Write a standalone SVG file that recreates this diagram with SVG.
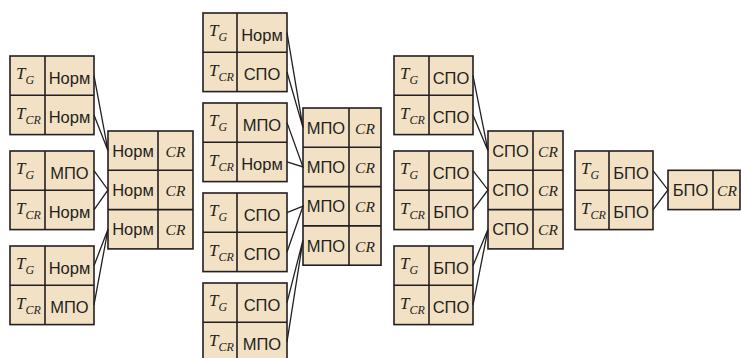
<svg xmlns="http://www.w3.org/2000/svg" width="741" height="358" viewBox="0 0 741 358">
<style>
.box{fill:#f3e1c5;stroke:#231f20;stroke-width:1.6}
.div{stroke:#231f20;stroke-width:1.6;fill:none}
.s{font-family:"Liberation Sans",Arial,sans-serif;font-size:16.5px;fill:#231f20;text-anchor:middle}
.t{font-family:"Liberation Serif","Times New Roman",serif;font-style:italic;font-size:17px;fill:#231f20}
.sub{font-size:12px}
.cr{font-family:"Liberation Serif","Times New Roman",serif;font-style:italic;font-size:15.5px;fill:#231f20;text-anchor:middle}
.con{fill:none;stroke:#231f20;stroke-width:1.3}
</style>
<rect width="741" height="358" fill="#ffffff"/>

<!-- Group 1 inputs -->
<g id="g1a">
<rect class="box" x="10" y="56" width="84" height="78.6"/>
<path class="div" d="M45,56V134.6M10,95.3H94"/>
<text class="t" x="16" y="79.2">T<tspan class="sub" dy="5">G</tspan></text>
<text class="t" x="16" y="118.5">T<tspan class="sub" dy="5">CR</tspan></text>
<text class="s" x="69.5" y="84">Норм</text>
<text class="s" x="69.5" y="123.3">Норм</text>
</g>
<g id="g1b">
<rect class="box" x="10" y="151" width="84" height="78.6"/>
<path class="div" d="M45,151V229.6M10,190.3H94"/>
<text class="t" x="16" y="174.2">T<tspan class="sub" dy="5">G</tspan></text>
<text class="t" x="16" y="213.5">T<tspan class="sub" dy="5">CR</tspan></text>
<text class="s" x="69.5" y="179">МПО</text>
<text class="s" x="69.5" y="218.3">Норм</text>
</g>
<g id="g1c">
<rect class="box" x="10" y="246" width="84" height="78.6"/>
<path class="div" d="M45,246V324.6M10,285.3H94"/>
<text class="t" x="16" y="269.2">T<tspan class="sub" dy="5">G</tspan></text>
<text class="t" x="16" y="308.5">T<tspan class="sub" dy="5">CR</tspan></text>
<text class="s" x="69.5" y="274">Норм</text>
<text class="s" x="69.5" y="313.3">МПО</text>
</g>
<g id="g1out">
<rect class="box" x="108" y="131" width="85" height="117.9"/>
<path class="div" d="M158,131V248.9M108,170.3H193M108,209.6H193"/>
<text class="s" x="133" y="156.7">Норм</text>
<text class="s" x="133" y="196">Норм</text>
<text class="s" x="133" y="235.3">Норм</text>
<text class="cr" x="175.5" y="156.7">CR</text>
<text class="cr" x="175.5" y="196">CR</text>
<text class="cr" x="175.5" y="235.3">CR</text>
</g>

<!-- Group 2 inputs -->
<g id="g2a">
<rect class="box" x="203" y="13" width="84" height="78.6"/>
<path class="div" d="M237,13V91.6M203,52.3H287"/>
<text class="t" x="209" y="36.2">T<tspan class="sub" dy="5">G</tspan></text>
<text class="t" x="209" y="75.5">T<tspan class="sub" dy="5">CR</tspan></text>
<text class="s" x="262" y="41">Норм</text>
<text class="s" x="262" y="80.3">СПО</text>
</g>
<g id="g2b">
<rect class="box" x="203" y="103" width="84" height="78.6"/>
<path class="div" d="M237,103V181.6M203,142.3H287"/>
<text class="t" x="209" y="126.2">T<tspan class="sub" dy="5">G</tspan></text>
<text class="t" x="209" y="165.5">T<tspan class="sub" dy="5">CR</tspan></text>
<text class="s" x="262" y="131">МПО</text>
<text class="s" x="262" y="170.3">Норм</text>
</g>
<g id="g2c">
<rect class="box" x="203" y="193" width="84" height="78.6"/>
<path class="div" d="M237,193V271.6M203,232.3H287"/>
<text class="t" x="209" y="216.2">T<tspan class="sub" dy="5">G</tspan></text>
<text class="t" x="209" y="255.5">T<tspan class="sub" dy="5">CR</tspan></text>
<text class="s" x="262" y="221">СПО</text>
<text class="s" x="262" y="260.3">СПО</text>
</g>
<g id="g2d">
<rect class="box" x="203" y="283" width="84" height="78.6"/>
<path class="div" d="M237,283V361.6M203,322.3H287"/>
<text class="t" x="209" y="306.2">T<tspan class="sub" dy="5">G</tspan></text>
<text class="t" x="209" y="345.5">T<tspan class="sub" dy="5">CR</tspan></text>
<text class="s" x="262" y="311">СПО</text>
<text class="s" x="262" y="350.3">МПО</text>
</g>
<g id="g2out">
<rect class="box" x="303" y="108" width="78" height="157.2"/>
<path class="div" d="M349,108V265.2M303,147.3H381M303,186.6H381M303,225.9H381"/>
<text class="s" x="326" y="133.7">МПО</text>
<text class="s" x="326" y="173">МПО</text>
<text class="s" x="326" y="212.3">МПО</text>
<text class="s" x="326" y="251.6">МПО</text>
<text class="cr" x="365" y="133.7">CR</text>
<text class="cr" x="365" y="173">CR</text>
<text class="cr" x="365" y="212.3">CR</text>
<text class="cr" x="365" y="251.6">CR</text>
</g>

<!-- Group 3 inputs -->
<g id="g3a">
<rect class="box" x="394" y="56" width="79" height="78.6"/>
<path class="div" d="M429,56V134.6M394,95.3H473"/>
<text class="t" x="400" y="79.2">T<tspan class="sub" dy="5">G</tspan></text>
<text class="t" x="400" y="118.5">T<tspan class="sub" dy="5">CR</tspan></text>
<text class="s" x="451" y="84">СПО</text>
<text class="s" x="451" y="123.3">СПО</text>
</g>
<g id="g3b">
<rect class="box" x="394" y="151" width="79" height="78.6"/>
<path class="div" d="M429,151V229.6M394,190.3H473"/>
<text class="t" x="400" y="174.2">T<tspan class="sub" dy="5">G</tspan></text>
<text class="t" x="400" y="213.5">T<tspan class="sub" dy="5">CR</tspan></text>
<text class="s" x="451" y="179">СПО</text>
<text class="s" x="451" y="218.3">БПО</text>
</g>
<g id="g3c">
<rect class="box" x="394" y="246" width="79" height="78.6"/>
<path class="div" d="M429,246V324.6M394,285.3H473"/>
<text class="t" x="400" y="269.2">T<tspan class="sub" dy="5">G</tspan></text>
<text class="t" x="400" y="308.5">T<tspan class="sub" dy="5">CR</tspan></text>
<text class="s" x="451" y="274">БПО</text>
<text class="s" x="451" y="313.3">СПО</text>
</g>
<g id="g3out">
<rect class="box" x="488" y="131" width="75" height="117.9"/>
<path class="div" d="M533,131V248.9M488,170.3H563M488,209.6H563"/>
<text class="s" x="510.5" y="156.7">СПО</text>
<text class="s" x="510.5" y="196">СПО</text>
<text class="s" x="510.5" y="235.3">СПО</text>
<text class="cr" x="548" y="156.7">CR</text>
<text class="cr" x="548" y="196">CR</text>
<text class="cr" x="548" y="235.3">CR</text>
</g>

<!-- Group 4 -->
<g id="g4a">
<rect class="box" x="575" y="151" width="78" height="78.6"/>
<path class="div" d="M609,151V229.6M575,190.3H653"/>
<text class="t" x="581" y="174.2">T<tspan class="sub" dy="5">G</tspan></text>
<text class="t" x="581" y="213.5">T<tspan class="sub" dy="5">CR</tspan></text>
<text class="s" x="631" y="179">БПО</text>
<text class="s" x="631" y="218.3">БПО</text>
</g>
<g id="g4out">
<rect class="box" x="668" y="170.3" width="72" height="39.3"/>
<path class="div" d="M713,170.3V209.6"/>
<text class="s" x="690.5" y="196">БПО</text>
<text class="cr" x="727" y="196">CR</text>
</g>

<!-- Connectors -->
<g id="connectors">
<path class="con" d="M94,75.65L108,150.65L94,114.95"/>
<path class="con" d="M94,170.65L108,189.95L94,209.95"/>
<path class="con" d="M94,265.65L108,229.25L94,304.95"/>
<path class="con" d="M287,32.65L303,127.65L287,71.95"/>
<path class="con" d="M287,122.65L303,166.95L287,161.95"/>
<path class="con" d="M287,212.65L303,206.25L287,251.95"/>
<path class="con" d="M287,302.65L303,240L287,341.95"/>
<path class="con" d="M473,75.65L488,150.65L473,114.95"/>
<path class="con" d="M473,170.65L488,189.95L473,209.95"/>
<path class="con" d="M473,265.65L488,229.25L473,304.95"/>
<path class="con" d="M653,170.65L668,189.95L653,209.95"/>
</g>
</svg>
